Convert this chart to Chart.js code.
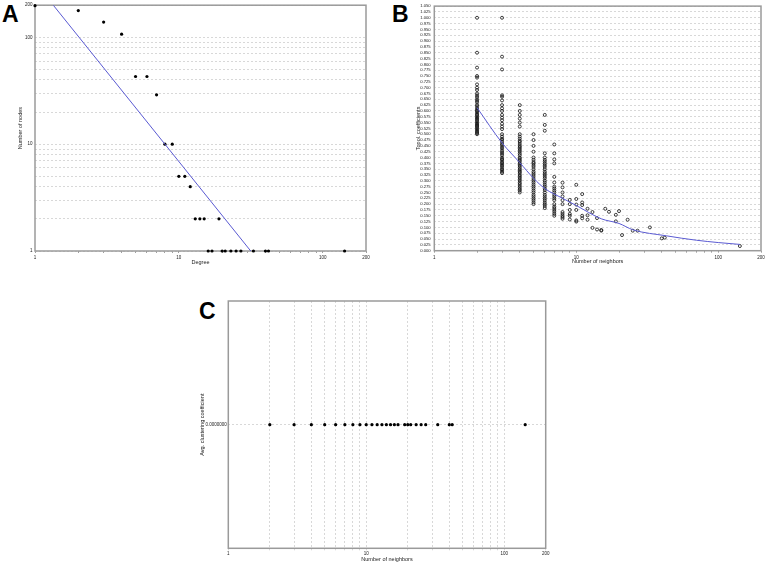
<!DOCTYPE html>
<html>
<head>
<meta charset="utf-8">
<script src="https://cdn.jsdelivr.net/npm/chart.js@4.4.1/dist/chart.umd.min.js"></script>
<style>
body{margin:0;background:#fff;width:767px;height:563px;position:relative;overflow:hidden;font-family:"Liberation Sans",Arial,sans-serif}
canvas{position:absolute}
.tag{position:absolute;font-weight:bold;font-size:23px;line-height:1;color:#000}
</style>
</head>
<body>
<div class="tag" style="left:2px;top:3px">A</div>
<div class="tag" style="left:392px;top:3px">B</div>
<div class="tag" style="left:199px;top:300px">C</div>
<canvas id="chartA" width="380" height="270" style="left:0;top:0"></canvas>
<canvas id="chartB" width="367" height="270" style="left:400px;top:0"></canvas>
<canvas id="chartC" width="380" height="273" style="left:180px;top:290px"></canvas>
<script>
// shared log axis ticks (1..200)
const logTicks = [1,2,3,4,5,6,7,8,9,10,20,30,40,50,60,70,80,90,100,200];
const logLabels = [1,10,100,200];

// A: degree distribution
const degreeA = [1,2,3,4,5,6,7,8,9,10,11,12,13,14,15,16,17,19,20,21,23,25,27,33,40,42,142];
const nodeCounts = [198,178,139,107,43,43,29,10,10,5,5,4,2,2,2,1,1,2,1,1,1,1,1,1,1,1,1];
const fitA = [{x:1.34,y:200},{x:31.6,y:1}];

// B: topological coefficients per number of neighbors
const topolK = [2,3,4,5,6,7,8,9,10,11,12,13,14,15,16,17,19,20,21,23,25,27,33,40,42,142];
const topolValues = [
  [1.0,0.85,0.786,0.75,0.743,0.714,0.7,0.69,0.675,0.667,0.66,0.65,0.643,0.636,0.625,0.619,0.611,0.605,0.6,0.594,0.588,0.583,0.577,0.571,0.567,0.562,0.556,0.55,0.545,0.54,0.536,0.531,0.525,0.52,0.515,0.51,0.505,0.5],
  [1.0,0.833,0.778,0.667,0.661,0.645,0.625,0.611,0.6,0.583,0.571,0.56,0.545,0.533,0.522,0.5,0.49,0.481,0.476,0.467,0.458,0.452,0.444,0.438,0.429,0.422,0.417,0.41,0.4,0.394,0.389,0.381,0.375,0.37,0.364,0.357,0.35,0.345,0.339,0.333],
  [0.625,0.6,0.583,0.567,0.55,0.533,0.5,0.49,0.481,0.472,0.467,0.458,0.45,0.444,0.438,0.431,0.425,0.417,0.41,0.4,0.396,0.389,0.383,0.375,0.37,0.364,0.357,0.35,0.344,0.339,0.333,0.325,0.319,0.313,0.306,0.3,0.292,0.286,0.278,0.271,0.264,0.258,0.25],
  [0.5,0.475,0.45,0.425,0.4,0.39,0.38,0.375,0.367,0.36,0.35,0.34,0.333,0.325,0.317,0.308,0.3,0.292,0.283,0.275,0.267,0.258,0.25,0.24,0.233,0.225,0.217,0.208,0.2],
  [0.583,0.54,0.515,0.418,0.4,0.39,0.383,0.375,0.367,0.36,0.35,0.34,0.333,0.325,0.317,0.31,0.3,0.292,0.283,0.275,0.267,0.26,0.25,0.24,0.233,0.225,0.217,0.208,0.2,0.192,0.183],
  [0.456,0.418,0.392,0.375,0.317,0.293,0.275,0.267,0.258,0.25,0.24,0.233,0.225,0.217,0.2,0.19,0.183,0.175,0.167,0.158,0.15],
  [0.292,0.272,0.25,0.233,0.217,0.2,0.166,0.158,0.15,0.144,0.137],
  [0.218,0.2,0.175,0.158,0.15,0.134],
  [0.283,0.222,0.198,0.175,0.13,0.125],
  [0.243,0.207,0.196,0.15,0.139],
  [0.18,0.152,0.133],
  [0.166,0.098],
  [0.14,0.091],
  [0.089,0.086],
  [0.18],
  [0.167],
  [0.154,0.126],
  [0.17],
  [0.067],
  [0.133],
  [0.086],
  [0.086],
  [0.1],
  [0.053],
  [0.056],
  [0.02]
];
const fitBk = [2,3,4,5,6,8,10,15,20,25,43,70,100,142];
const fitBv = [0.614,0.463,0.378,0.311,0.267,0.225,0.194,0.137,0.117,0.09,0.064,0.045,0.035,0.027];

// C: average clustering coefficient
const clusterK = [2,3,4,5,6,7,8,9,10,11,12,13,14,15,16,17,19,20,21,23,25,27,33,40,42,142];
const clusterV = [0,0,0,0,0,0,0,0,0,0,0,0,0,0,0,0,0,0,0,0,0,0,0,0,0,0];

const fontFam = '"Liberation Sans", Arial, sans-serif';
const tickFont = {family: fontFam, size: 4.5};
const titleFont = {family: fontFam, size: 5.5};
const gridGray = '#cfcfcf';
const fitBlue = '#5a5ad2';

const frame = {
  id: 'frame',
  beforeDatasetsDraw(chart) {
    const a = chart.chartArea, c = chart.ctx;
    c.save();
    c.strokeStyle = '#9a9a9a';
    c.lineWidth = 1.5;
    c.strokeRect(a.left, a.top, a.right - a.left, a.bottom - a.top);
    c.restore();
  }
};

function logX(title, gridOn, tickPad, titlePad, boxH) {
  return {
    type: 'logarithmic', min: 1, max: 200,
    afterBuildTicks: s => { s.ticks = logTicks.map(v => ({value: v})); },
    afterFit: s => { s.height = boxH; },
    ticks: {
      autoSkip: false, maxRotation: 0, padding: tickPad, color: '#222', font: tickFont,
      callback: v => logLabels.includes(v) ? String(v) : ''
    },
    grid: {drawOnChartArea: gridOn, color: gridOn ? gridGray : '#888', tickLength: 2, lineWidth: 0.8},
    border: {display: false, dash: gridOn ? [2, 2] : []},
    title: {display: true, text: title, color: '#222', font: titleFont, padding: {top: 0, bottom: titlePad}}
  };
}

function baseOpts() {
  return {
    responsive: false, animation: false, devicePixelRatio: 1,
    plugins: {legend: {display: false}, tooltip: {enabled: false}}
  };
}

// ---- A
new Chart(document.getElementById('chartA'), {
  type: 'scatter',
  data: {
    datasets: [
      {type: 'line', data: fitA, borderColor: fitBlue, borderWidth: 1, pointRadius: 0, fill: false},
      {data: degreeA.map((d, i) => ({x: d, y: nodeCounts[i]})), pointRadius: 1.6,
       backgroundColor: '#000', borderColor: '#000', borderWidth: 0, clip: false}
    ]
  },
  options: Object.assign(baseOpts(), {
    layout: {padding: {left: 0, top: 4, right: 14, bottom: 0}},
    scales: {
      x: logX('Degree', false, 2, 4.2, 19),
      y: {
        type: 'logarithmic', min: 1, max: 200,
        afterBuildTicks: s => { s.ticks = logTicks.map(v => ({value: v})); },
        afterFit: s => { s.width = 35; },
        ticks: {autoSkip: false, padding: 2.5, color: '#222', font: tickFont,
          callback: v => logLabels.includes(v) ? String(v) : ''},
        grid: {color: gridGray, drawTicks: false, lineWidth: 0.8},
        border: {display: false, dash: [2, 2]},
        title: {display: true, text: 'Number of nodes', color: '#222', font: titleFont, padding: {top: 17.2, bottom: 0}}
      }
    }
  }),
  plugins: [frame]
});

// ---- B
const pointsB = topolK.flatMap((k, i) => topolValues[i].map(v => ({x: k, y: v})));
new Chart(document.getElementById('chartB'), {
  type: 'scatter',
  data: {
    datasets: [
      {type: 'line', data: fitBk.map((k, i) => ({x: k, y: fitBv[i]})), borderColor: fitBlue, borderWidth: 1,
       pointRadius: 0, fill: false, cubicInterpolationMode: 'monotone'},
      {data: pointsB, pointRadius: 1.5, backgroundColor: 'rgba(0,0,0,0)', borderColor: '#111', borderWidth: 0.8, clip: false}
    ]
  },
  options: Object.assign(baseOpts(), {
    layout: {padding: {left: 0, top: 3.3, right: 6, bottom: 0}},
    scales: {
      x: logX('Number of neighbors', false, 2, 5.7, 19.3),
      y: {
        type: 'linear', min: 0, max: 1.05,
        afterFit: s => { s.width = 34.3; },
        ticks: {stepSize: 0.025, maxTicksLimit: 100, autoSkip: false, padding: 3.6, color: '#222',
          font: {family: fontFam, size: 4.2}, callback: v => Number(v).toFixed(3)},
        grid: {color: gridGray, drawTicks: false, lineWidth: 0.8},
        border: {display: false, dash: [2, 2]},
        title: {display: true, text: 'Topol. coefficients', color: '#222', font: titleFont, padding: {top: 15, bottom: 0}}
      }
    }
  }),
  plugins: [frame]
});

// ---- C
new Chart(document.getElementById('chartC'), {
  type: 'scatter',
  data: {
    datasets: [
      {data: clusterK.map((k, i) => ({x: k, y: clusterV[i]})), pointRadius: 1.6,
       backgroundColor: '#000', borderColor: '#000', borderWidth: 0, clip: false}
    ]
  },
  options: Object.assign(baseOpts(), {
    layout: {padding: {left: 0, top: 11, right: 14.3, bottom: 0}},
    scales: {
      x: logX('Number of neighbors', true, 1, 0.4, 14.7),
      y: {
        type: 'linear', min: -1, max: 1,
        afterBuildTicks: s => { s.ticks = [{value: 0}]; },
        afterFit: s => { s.width = 48.3; },
        ticks: {autoSkip: false, padding: 1.6, color: '#222', font: tickFont, callback: () => '0.0000000'},
        grid: {color: gridGray, drawTicks: false, lineWidth: 0.8},
        border: {display: false, dash: [2, 2]},
        title: {display: true, text: 'Avg. clustering coefficient', color: '#222', font: titleFont, padding: {top: 19.4, bottom: 0}}
      }
    }
  }),
  plugins: [frame]
});
</script>
</body>
</html>
